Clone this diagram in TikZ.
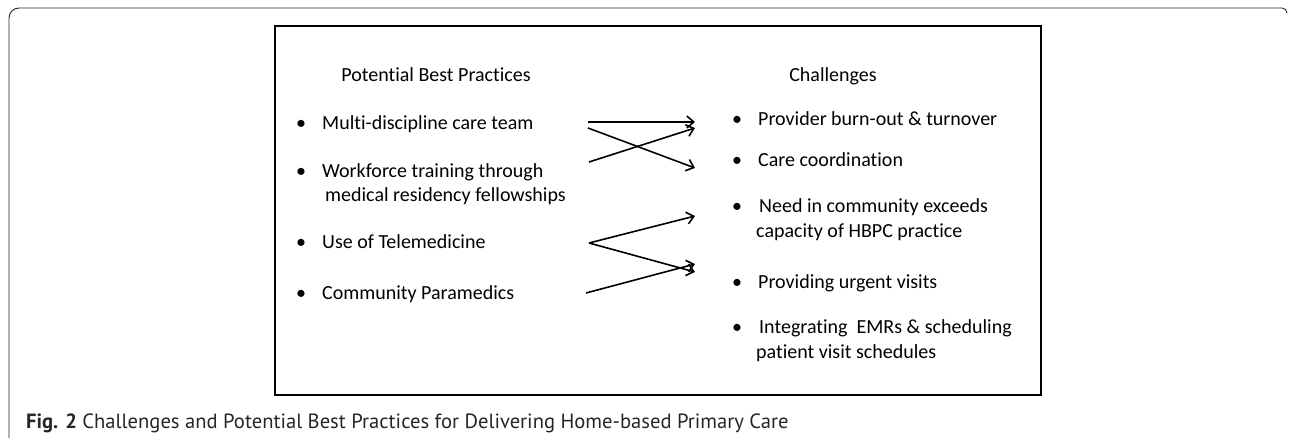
\documentclass[tikz,border=0pt]{standalone}
\usepackage{fontspec}
\setmainfont[Ligatures=NoCommon]{Carlito}
\newfontfamily\capfont{PT Sans}
\usetikzlibrary{arrows.meta}
\begin{document}
\begin{tikzpicture}[x=1pt,y=-1pt,
  item/.style={anchor=base west,inner sep=0pt,font=\fontsize{20}{24}\selectfont},
  head/.style={anchor=base,inner sep=0pt,font=\fontsize{20}{24}\selectfont},
  dot/.style={anchor=base,inner sep=0pt,font=\fontsize{20}{24}\selectfont},
  link/.style={line width=1.6pt,-{Straight Barb[length=7pt,width=12pt,line width=1.6pt]}},
  frame/.style={draw=black!85,line width=0.9pt}]
\useasboundingbox (0,0) rectangle (1290,438);
% outer figure frame, open at the bottom
\draw[frame] (9,438) -- (9,18) arc[start angle=180,end angle=270,radius=10] -- (1282,8)
  arc[start angle=270,end angle=360,radius=5];
% diagram box
\node[draw,line width=2.2pt,minimum width=766pt,minimum height=369pt,anchor=north west,inner sep=0pt] (box) at (274,25) {};
% column headings
\node[head] (hbp) at (436,82) {Potential Best Practices};
\node[head] (hch) at (833,82) {Challenges};
% best practices
\node[dot] (b1) at (301,130) {•};
\node[item] (bp1) at (322,130) {Multi-discipline care team};
\node[dot] (b2) at (301,178) {•};
\node[item] (bp2) at (322,178) {Workforce training through};
\node[item] (bp2b) at (325,202) {medical residency fellowships};
\node[dot] (b3) at (301,249) {•};
\node[item] (bp3) at (322,249) {Use of Telemedicine};
\node[dot] (b4) at (301,299) {•};
\node[item] (bp4) at (322,299) {Community Paramedics};
% challenges
\node[dot] (c1d) at (737,126) {•};
\node[item] (ch1) at (758,126) {Provider burn-out \& turnover};
\node[dot] (c2d) at (737,167) {•};
\node[item] (ch2) at (758,167) {Care coordination};
\node[dot] (c3d) at (737,213) {•};
\node[item] (ch3) at (759,213) {Need in community exceeds};
\node[item] (ch3b) at (756,238) {capacity of HBPC practice};
\node[dot] (c4d) at (737,289) {•};
\node[item] (ch4) at (758,289) {Providing urgent visits};
\node[dot] (c5d) at (737,333) {•};
\node[item] (ch5) at (759,333) {Integrating\ \ EMRs \& scheduling};
\node[item] (ch5b) at (756,358) {patient visit schedules};
% arrow end points
\coordinate (s1) at (588,122); \coordinate (t1) at (695,122);
\coordinate (s2) at (588,128); \coordinate (t2) at (695,168);
\coordinate (s3) at (589,162); \coordinate (t3) at (695,128);
\coordinate (s4) at (589,243); \coordinate (t4) at (695,216);
\coordinate (t5) at (695,272);
\coordinate (s6) at (586,293); \coordinate (t6) at (695,264);
\draw[link] (s1) -- (t1);
\draw[link] (s2) -- (t2);
\draw[link] (s3) -- (t3);
\draw[link] (s4) -- (t4);
\draw[link] (s4) -- (t5);
\draw[link] (s6) -- (t6);
% caption
\node[anchor=base west,inner sep=0pt,text=black!85,font=\capfont\fontsize{20.6}{22}\selectfont] (cap) at (26,428)
  {\textbf{Fig. 2} Challenges and Potential Best Practices for Delivering Home-based Primary Care};
\end{tikzpicture}
\end{document}
